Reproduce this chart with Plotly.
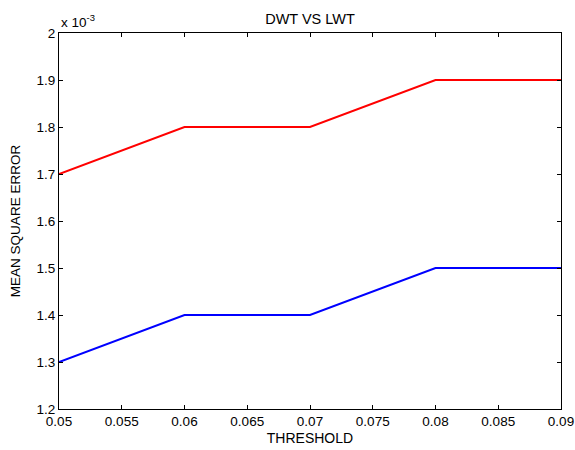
import plotly.graph_objects as go

threshold = [0.05, 0.06, 0.07, 0.08, 0.09]
mse_red = [1.7, 1.8, 1.8, 1.9, 1.9]
mse_blue = [1.3, 1.4, 1.4, 1.5, 1.5]

x_tickvals = [0.05, 0.055, 0.06, 0.065, 0.07, 0.075, 0.08, 0.085, 0.09]
x_ticktext = ["0.05", "0.055", "0.06", "0.065", "0.07", "0.075", "0.08", "0.085", "0.09"]
y_tickvals = [1.2, 1.3, 1.4, 1.5, 1.6, 1.7, 1.8, 1.9, 2.0]
y_ticktext = ["1.2", "1.3", "1.4", "1.5", "1.6", "1.7", "1.8", "1.9", "2"]

font = "Liberation Sans, Arial, sans-serif"

fig = go.Figure()
fig.add_trace(go.Scatter(x=threshold, y=mse_red, mode="lines",
                         line=dict(color="#ff0000", width=2), showlegend=False))
fig.add_trace(go.Scatter(x=threshold, y=mse_blue, mode="lines",
                         line=dict(color="#0000ff", width=2), showlegend=False))

axis_common = dict(showgrid=False, zeroline=False, showline=True, linecolor="black",
                   linewidth=1, mirror="ticks", ticks="inside", ticklen=4,
                   tickcolor="black", automargin=False, ticklabeloverflow="allow",
                   tickfont=dict(family=font, size=13.5, color="black"))

fig.update_layout(
    width=575, height=450,
    margin=dict(l=59, r=14, t=33, b=41),
    paper_bgcolor="white", plot_bgcolor="white",
    font=dict(family=font, size=13.5, color="black"),
    title=dict(text="DWT VS LWT", x=0.5, xref="paper", y=1, yref="paper",
               yanchor="bottom", pad=dict(b=9), automargin=False,
               font=dict(family=font, size=14.5)),
    xaxis=dict(range=[0.05, 0.09], tickvals=x_tickvals, ticktext=x_ticktext,
               title=dict(text="THRESHOLD", standoff=4, font=dict(family=font, size=14)),
               **axis_common),
    yaxis=dict(range=[1.2, 2.0], tickvals=y_tickvals, ticktext=y_ticktext,
               title=dict(text="MEAN SQUARE ERROR", standoff=12, font=dict(family=font, size=13.5)),
               **axis_common),
    annotations=[dict(text="x 10<sup>-3</sup>", x=0, xref="paper", y=1, yref="paper",
                      xanchor="left", yanchor="bottom", showarrow=False, yshift=1,
                      font=dict(family=font, size=13.5))],
)

fig.write_html("out.html", config={"displayModeBar": False},
               post_script="document.body.style.margin='0';document.body.style.overflow='hidden';")
